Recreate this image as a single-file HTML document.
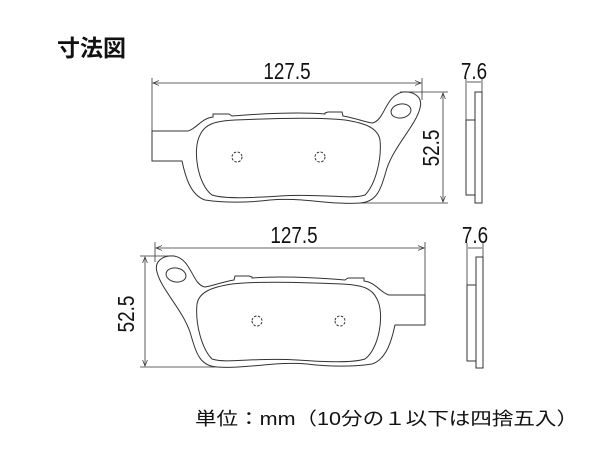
<!DOCTYPE html>
<html><head><meta charset="utf-8"><style>
html,body{margin:0;padding:0;background:#fff;}
svg{display:block;}
text{font-family:"Liberation Sans","Noto Sans CJK JP",sans-serif;fill:#111;}
</style></head><body>
<svg width="600" height="450" viewBox="0 0 600 450" xmlns="http://www.w3.org/2000/svg">
<defs>
<marker id="a" viewBox="0 0 10 10" refX="10" refY="5" markerWidth="8" markerHeight="6" orient="auto-start-reverse" markerUnits="userSpaceOnUse"><path d="M0,1 L10,5 L0,9" fill="none" stroke="#333" stroke-width="1.2"/></marker>
<g id="pad" fill="none" stroke="#333" stroke-width="1">
<path d="M152,131 H188 C196,129 202,118 213,117 V114 H229 L232,116 C270,113 300,112 325,114 V113 L328,112 H342 L343,116 C355,118 365,122 372,123 C385,121 385,95 403,92 C415,91 423,98 420,108 C416,125 395,145 387,168 C381,188 378,202 360,203 C330,205 300,197 270,200 C245,203 225,203 205,200 C190,195 185,175 182,161 H152 Z"/>
<path d="M200,135 C205,124 215,121 235,120 C280,118 320,117 345,120 C365,123 378,128 380,140 C382,160 375,185 365,195 C350,200 320,193 280,196 C250,198 225,199 212,195 C198,185 192,150 200,135 Z"/>
<ellipse cx="401" cy="111" rx="10" ry="7" transform="rotate(-10 401 111)"/>
<circle cx="237" cy="157" r="5" stroke-dasharray="2.5 1.5"/>
<circle cx="320" cy="157" r="5" stroke-dasharray="2.5 1.5"/>
</g>
</defs>
<text x="57" y="56" font-size="23" font-weight="bold">寸法図</text>

<use href="#pad"/>
<g stroke="#333" stroke-width="0.8" fill="none">
<line x1="152" y1="78" x2="152" y2="131"/>
<line x1="422" y1="78" x2="422" y2="100"/>
<line x1="153" y1="83" x2="421" y2="83" marker-start="url(#a)" marker-end="url(#a)"/>
<line x1="400" y1="92" x2="448" y2="92"/>
<line x1="360" y1="203" x2="448" y2="203"/>
<line x1="443" y1="93" x2="443" y2="202" marker-start="url(#a)" marker-end="url(#a)"/>
<line x1="466" y1="78" x2="466" y2="120"/>
<line x1="482" y1="78" x2="482" y2="92"/>
<line x1="467" y1="82" x2="481" y2="82"/>
</g>
<rect x="475" y="92" width="7" height="111" fill="none" stroke="#333" stroke-width="1"/>
<rect x="466" y="120" width="9" height="75" fill="none" stroke="#333" stroke-width="1"/>
<text transform="translate(287,79) scale(0.82,1)" font-size="23" text-anchor="middle">127.5</text>
<text transform="translate(474,79) scale(0.82,1)" font-size="23" text-anchor="middle">7.6</text>
<text transform="translate(439,148) rotate(-90) scale(0.82,1)" font-size="23" text-anchor="middle">52.5</text>

<use href="#pad" transform="translate(577,164) scale(-1,1)"/>
<g stroke="#333" stroke-width="0.8" fill="none">
<line x1="155" y1="242" x2="155" y2="262"/>
<line x1="425" y1="242" x2="425" y2="295"/>
<line x1="156" y1="248" x2="424" y2="248" marker-start="url(#a)" marker-end="url(#a)"/>
<line x1="140" y1="256" x2="175" y2="256"/>
<line x1="140" y1="367" x2="215" y2="367"/>
<line x1="145" y1="257" x2="145" y2="366" marker-start="url(#a)" marker-end="url(#a)"/>
<line x1="467" y1="243" x2="467" y2="285"/>
<line x1="483" y1="243" x2="483" y2="257"/>
<line x1="468" y1="248" x2="482" y2="248"/>
</g>
<rect x="476" y="257" width="7" height="111" fill="none" stroke="#333" stroke-width="1"/>
<rect x="467" y="285" width="9" height="76" fill="none" stroke="#333" stroke-width="1"/>
<text transform="translate(294,243) scale(0.82,1)" font-size="23" text-anchor="middle">127.5</text>
<text transform="translate(475,243) scale(0.82,1)" font-size="23" text-anchor="middle">7.6</text>
<text transform="translate(134,314) rotate(-90) scale(0.82,1)" font-size="23" text-anchor="middle">52.5</text>

<text x="195" y="425" font-size="18" textLength="383" lengthAdjust="spacingAndGlyphs">単位：mm（10分の１以下は四捨五入）</text>
</svg>
</body></html>
